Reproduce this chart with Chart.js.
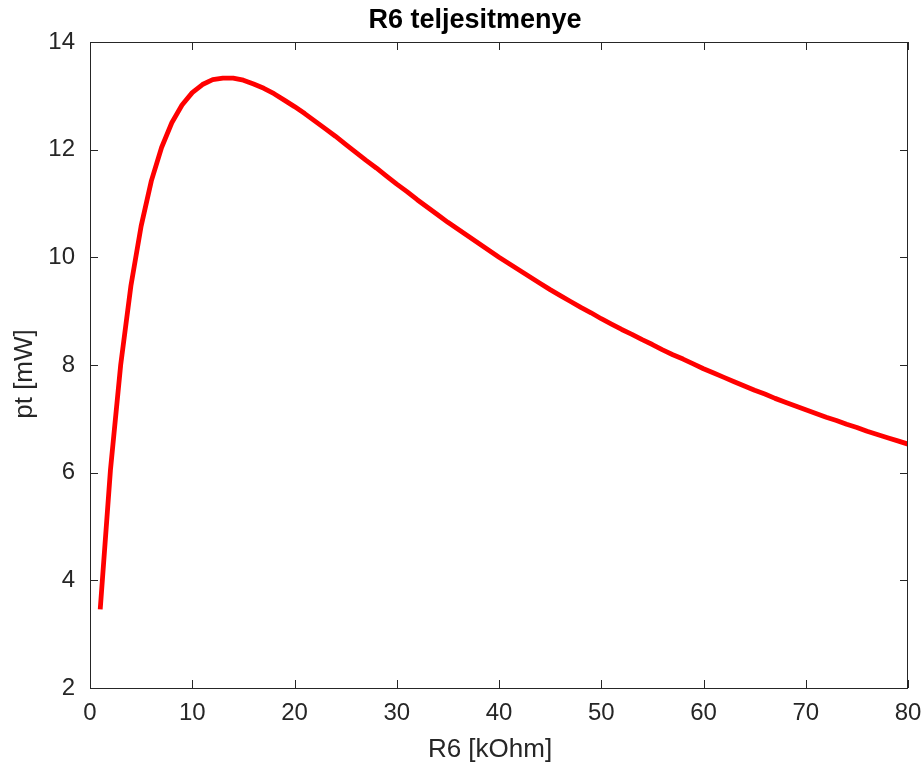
<!DOCTYPE html>
<html>
<head>
<meta charset="utf-8">
<script src="https://cdn.jsdelivr.net/npm/chart.js@4/dist/chart.umd.min.js"></script>
<style>
  html,body{margin:0;padding:0;background:#fff;}
  #wrap{width:922px;height:767px;}
</style>
</head>
<body>
<div id="wrap"><canvas id="c" width="922" height="767"></canvas></div>
<script>
/* data: R6 in kOhm, power in mW */
const r6 = [1,2,3,4,5,6,7,8,9,10,11,12,13,14,15,16,17,18,19,20,
  21,22,23,24,25,26,27,28,29,30,31,32,33,34,35,36,37,38,39,40,
  41,42,43,44,45,46,47,48,49,50,51,52,53,54,55,56,57,58,59,60,
  61,62,63,64,65,66,67,68,69,70,71,72,73,74,75,76,77,78,79,80];
const pt = [3.46,6.05,8.00,9.47,10.58,11.42,12.04,12.50,12.83,13.06,
  13.21,13.30,13.33,13.33,13.29,13.22,13.14,13.04,12.92,12.80,
  12.67,12.53,12.39,12.25,12.10,11.95,11.80,11.66,11.51,11.36,
  11.22,11.07,10.93,10.79,10.65,10.52,10.39,10.26,10.13,10.00,
  9.88,9.76,9.64,9.52,9.40,9.29,9.18,9.07,8.97,8.86,
  8.76,8.66,8.57,8.47,8.38,8.28,8.19,8.11,8.02,7.93,
  7.85,7.77,7.69,7.61,7.53,7.46,7.38,7.31,7.24,7.17,
  7.10,7.03,6.97,6.90,6.84,6.77,6.71,6.65,6.59,6.53];
const xTicks = [0,10,20,30,40,50,60,70,80];
const yTicks = [2,4,6,8,10,12,14];
const title = 'R6 teljesitmenye';
const xLabel = 'R6 [kOhm]';
const yLabel = 'pt [mW]';

const ink = '#262626';
const fam = '"Liberation Sans", Arial, Helvetica, sans-serif';

/* box + inward ticks on all 4 sides (octave style), plus the texts */
const boxPlugin = {
  id:'box',
  afterDraw(chart){
    const {ctx, chartArea:a, scales:{x,y}} = chart;
    ctx.save();
    ctx.strokeStyle = ink; ctx.lineWidth = 1;
    ctx.strokeRect(a.left+0.5, a.top+0.5, a.right-a.left-1, a.bottom-a.top);
    ctx.beginPath();
    xTicks.forEach(v=>{
      const px = Math.round(x.getPixelForValue(v))+0.5;
      ctx.moveTo(px,a.bottom); ctx.lineTo(px,a.bottom-8);
      ctx.moveTo(px,a.top);    ctx.lineTo(px,a.top+8);
    });
    yTicks.forEach(v=>{
      const py = Math.round(y.getPixelForValue(v))+0.5;
      ctx.moveTo(a.left,py);  ctx.lineTo(a.left+8,py);
      ctx.moveTo(a.right,py); ctx.lineTo(a.right-8,py);
    });
    ctx.stroke();

    ctx.textAlign = 'center'; ctx.textBaseline = 'alphabetic';
    ctx.fillStyle = '#000';
    ctx.font = 'bold 27px '+fam;
    ctx.fillText(title, 475, 28);

    ctx.fillStyle = ink;
    ctx.font = '26px '+fam;
    ctx.fillText(xLabel, 490, 757);
    ctx.translate(32, 374); ctx.rotate(-Math.PI/2);
    ctx.fillText(yLabel, 0, 0);
    ctx.restore();
  }
};

new Chart('c',{
  type:'line',
  data:{ datasets:[{
    data: r6.map((v,i)=>({x:v,y:pt[i]})),
    borderColor:'#ff0000', borderWidth:4.8, pointRadius:0,
    tension:0, fill:false, borderJoinStyle:'round', borderCapStyle:'butt'
  }]},
  options:{
    responsive:false, animation:false,
    layout:{padding:{top:42,right:14,left:0,bottom:0}},
    plugins:{legend:{display:false},tooltip:{enabled:false}},
    scales:{
      x:{type:'linear',min:0,max:80,
        afterBuildTicks:s=>{s.ticks=xTicks.map(v=>({value:v}));},
        afterFit:s=>{s.height=79; s.paddingLeft=0; s.paddingRight=0;},
        grid:{display:false,drawTicks:false},
        border:{display:false},
        ticks:{color:ink,font:{family:fam,size:24},padding:11,maxRotation:0}
      },
      y:{min:2,max:14,
        afterBuildTicks:s=>{s.ticks=yTicks.map(v=>({value:v}));},
        afterFit:s=>{s.width=90; s.paddingTop=0; s.paddingBottom=0;},
        grid:{display:false,drawTicks:false},
        border:{display:false},
        ticks:{color:ink,font:{family:fam,size:24},padding:15}
      }
    }
  },
  plugins:[boxPlugin]
});
</script>
</body>
</html>
